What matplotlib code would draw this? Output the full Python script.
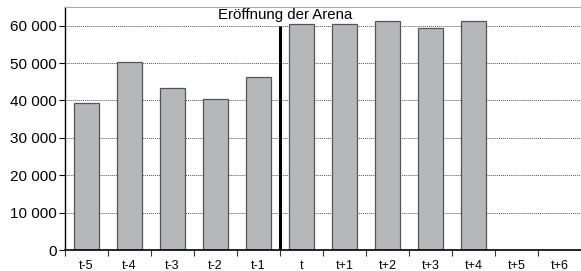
import matplotlib
matplotlib.use("Agg")
from matplotlib import pyplot as plt
from matplotlib.ticker import FuncFormatter

periods = ["t-5", "t-4", "t-3", "t-2", "t-1", "t", "t+1", "t+2", "t+3", "t+4", "t+5", "t+6"]
visitors = [39400, 50300, 43400, 40400, 46400, 60500, 60500, 61200, 59500, 61200, None, None]
opening_label = "Eröffnung der Arena"
opening_index = 5  # arena opened at period t

plt.rcParams["font.family"] = ["Liberation Sans", "DejaVu Sans"]

fig = plt.figure(figsize=(5.81, 2.71), dpi=100)
ax = fig.add_axes([65 / 581, 21 / 271, 516 / 581, 243 / 271])

xs = [i for i, v in enumerate(visitors) if v is not None]
ys = [v for v in visitors if v is not None]
ax.bar(xs, ys, width=0.57, color="#b5b8bb", edgecolor="#555555", linewidth=0.9, zorder=3)

ax.set_xlim(-0.5, len(periods) - 0.5)
ax.set_ylim(0, 65000)
ax.set_yticks(range(0, 60001, 10000))
ax.yaxis.set_major_formatter(FuncFormatter(lambda v, p: f"{int(v):,}".replace(",", " ")))
ax.grid(axis="y", linestyle=(0, (1, 1)), color="#555555", linewidth=0.7, zorder=1)

ax.set_xticks(range(len(periods)))
ax.set_xticklabels(periods, fontsize=9, family=["Liberation Sans Narrow", "Liberation Sans"])
ax.set_xticks([i - 0.5 for i in range(len(periods) + 1)], minor=True)
ax.tick_params(axis="x", which="major", length=0, pad=7)
ax.tick_params(axis="x", which="minor", length=4, width=0.8, color="#333333")
ax.tick_params(axis="y", length=4, width=0.8, labelsize=11, pad=2)

opening_x = opening_index - 0.5
ax.vlines(opening_x, 0, 60000, color="black", linewidth=2.2, zorder=4)
ax.text(opening_x + 0.12, 61000, opening_label, ha="center", va="bottom", fontsize=10.8)

ax.spines["top"].set_color("#aaaaaa")
ax.spines["right"].set_visible(False)
ax.spines["left"].set_linewidth(1.0)
ax.spines["bottom"].set_linewidth(1.2)
ax.spines["bottom"].set_zorder(5)

fig.savefig("out.png", dpi=100)
